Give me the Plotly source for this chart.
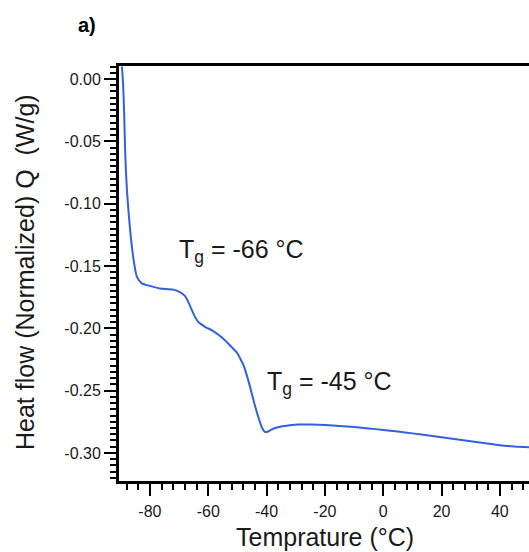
import plotly.graph_objects as go

temperature = [-89.6, -89.2, -88.8, -88.5, -88.0, -87.2, -86.3, -85.4, -84.4, -82.8,
               -80.0, -76.6, -72.0, -69.7, -68.0, -67.0, -65.7, -64.5, -63.4, -61.0,
               -58.4, -55.0, -52.0, -50.0, -49.0, -48.0, -47.0, -46.0, -45.0, -44.0,
               -43.0, -42.0, -41.3, -40.5, -39.5, -38.5, -37.0, -35.0, -32.0, -29.0,
               -25.0, -20.0, -15.0, -10.0, -5.0, 0.0, 5.0, 10.0, 15.0, 20.0,
               25.0, 30.0, 35.0, 40.0, 45.0, 50.0]
heat_flow = [0.010, -0.004, -0.030, -0.057, -0.084, -0.110, -0.132, -0.148, -0.159, -0.164,
             -0.166, -0.168, -0.169, -0.171, -0.174, -0.178, -0.185, -0.191, -0.195, -0.199,
             -0.202, -0.208, -0.215, -0.220, -0.2245, -0.229, -0.236, -0.244, -0.253, -0.262,
             -0.270, -0.277, -0.281, -0.2832, -0.2828, -0.2815, -0.2800, -0.2788, -0.2778, -0.2772,
             -0.2772, -0.2775, -0.2783, -0.2792, -0.2803, -0.2815, -0.2828, -0.2843, -0.2858, -0.2874,
             -0.2890, -0.2906, -0.2922, -0.2938, -0.2948, -0.2955]

x_tickvals = [-80, -60, -40, -20, 0, 20, 40]
x_ticktext = ["-80", "-60", "-40", "-20", "0", "20", "40"]
y_tickvals = [0.0, -0.05, -0.10, -0.15, -0.20, -0.25, -0.30]
y_ticktext = ["0.00", "-0.05", "-0.10", "-0.15", "-0.20", "-0.25", "-0.30"]

annotations_text = ["T<sub>g</sub> = -66 °C", "T<sub>g</sub> = -45 °C"]
annotations_x = [-70.8, -40.6]
annotations_y = [-0.138, -0.2435]

x_title = "Temprature (°C)"
y_title = "Heat flow (Normalized) Q  (W/g)"
panel_label = "<b>a)</b>"

FONT = "Liberation Sans, Arial, sans-serif"
TXT = "#1a1a1a"

# plot area in pixels
L, R, T, B = 119, 0, 66, 71
W, H = 529, 552
PW, PH = W - L - R, H - T - B


def px_to_paper(px, py):
    return (px - L) / PW, (H - B - py) / PH


fig = go.Figure()
fig.add_trace(go.Scatter(x=temperature, y=heat_flow, mode="lines",
                         line=dict(color="#3361de", width=2, shape="spline", smoothing=0.8),
                         showlegend=False))

axis_common = dict(showgrid=False, zeroline=False, showline=True, linecolor="black",
                   linewidth=3, ticks="outside", ticklen=12, tickwidth=2, tickcolor="black",
                   tickfont=dict(family=FONT, size=16, color=TXT))

fig.update_xaxes(range=[-90.6, 50], tickvals=x_tickvals, ticktext=x_ticktext,
                 mirror=True, ticklabelstandoff=2,
                 minor=dict(dtick=4, tick0=0, ticks="outside", ticklen=6, tickwidth=2, tickcolor="black"),
                 **axis_common)
fig.update_yaxes(range=[-0.3225, 0.0104], tickvals=y_tickvals, ticktext=y_ticktext,
                 minor=dict(dtick=0.005, tick0=0, ticks="outside", ticklen=6, tickwidth=2, tickcolor="black"),
                 **axis_common)

for t, ax, ay in zip(annotations_text, annotations_x, annotations_y):
    fig.add_annotation(x=ax, y=ay, text=t, showarrow=False, xanchor="left", yanchor="middle",
                       font=dict(family=FONT, size=25, color=TXT))

xx, yy = px_to_paper(325, 537)
fig.add_annotation(x=xx, y=yy, xref="paper", yref="paper", text=x_title, showarrow=False,
                   xanchor="center", yanchor="middle", font=dict(family=FONT, size=25, color=TXT))
xx, yy = px_to_paper(25, 272)
fig.add_annotation(x=xx, y=yy, xref="paper", yref="paper", text=y_title, showarrow=False,
                   textangle=-90, xanchor="center", yanchor="middle",
                   font=dict(family=FONT, size=25, color=TXT))
xx, yy = px_to_paper(87, 25)
fig.add_annotation(x=xx, y=yy, xref="paper", yref="paper", text=panel_label, showarrow=False,
                   xanchor="center", yanchor="middle", font=dict(family=FONT, size=20, color="black"))

fig.update_layout(width=W, height=H, margin=dict(l=L, r=R, t=T, b=B),
                  plot_bgcolor="white", paper_bgcolor="white")

fig.write_html("out.html")
